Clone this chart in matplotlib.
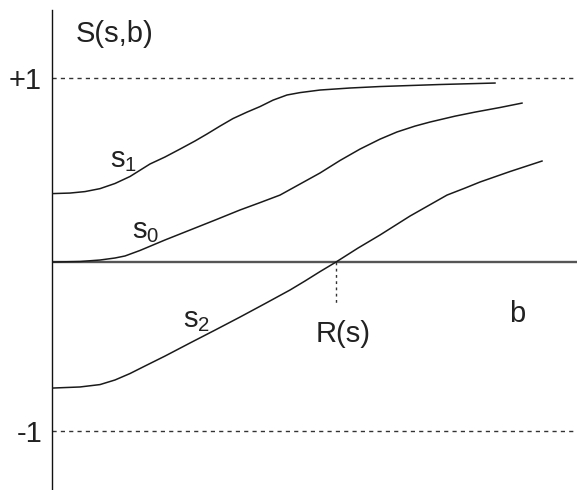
import matplotlib
matplotlib.use("Agg")
import matplotlib.pyplot as plt
import matplotlib.transforms as mtransforms

plt.rcParams['font.family'] = ['Liberation Sans', 'DejaVu Sans']
plt.rcParams['mathtext.fontset'] = 'custom'
plt.rcParams['mathtext.rm'] = 'Liberation Sans'
plt.rcParams['mathtext.it'] = 'Liberation Sans'

# curves S(s,b) (b in arbitrary units)
b_s1 = [0, 18, 33, 48, 63, 78, 98, 113, 128, 143, 155, 168, 181, 195, 208, 221, 235, 248, 268, 298, 328, 388, 443]
S_s1 = [0.372, 0.375, 0.383, 0.399, 0.427, 0.465, 0.533, 0.571, 0.614, 0.658, 0.696, 0.739,
        0.780, 0.815, 0.845, 0.880, 0.908, 0.921, 0.935, 0.946, 0.954, 0.965, 0.973]

b_s0 = [0, 28, 48, 63, 73, 88, 113, 138, 163, 188, 208, 228, 248, 268, 288, 308, 328, 345, 363, 378, 403, 423, 448, 470]
S_s0 = [0.0, 0.003, 0.011, 0.022, 0.033, 0.063, 0.120, 0.174, 0.228, 0.283, 0.323, 0.364,
        0.424, 0.484, 0.552, 0.614, 0.668, 0.707, 0.739, 0.761, 0.793, 0.815, 0.840, 0.864]

b_s2 = [0, 28, 48, 63, 78, 93, 113, 138, 163, 188, 213, 238, 253, 268, 284, 306, 328, 358, 395, 413, 428, 458, 490]
S_s2 = [-0.685, -0.679, -0.666, -0.641, -0.606, -0.565, -0.511, -0.440, -0.370, -0.299, -0.226, -0.152,
        -0.103, -0.052, 0.0, 0.076, 0.147, 0.250, 0.364, 0.402, 0.435, 0.492, 0.549]

upper_level = 1.0
lower_level = -0.918
R_b = 284
R_tick = -0.234

fig = plt.figure(figsize=(5.77, 4.90), dpi=100)
ax = fig.add_axes([52 / 577, 0, 1 - 52 / 577, 480 / 490])
ax.set_xlim(0, 525)
ax.set_ylim(-1.239, 1.370)
for sp in ['top', 'right', 'bottom']:
    ax.spines[sp].set_visible(False)
ax.spines['left'].set_linewidth(1.0)
ax.spines['left'].set_color('#111111')
ax.set_xticks([])
ax.set_yticks([])

ax.axhline(0, color='#555555', lw=1.7, zorder=1)
ax.axhline(upper_level, color='#333333', lw=1.0, ls=(0, (3, 3)))
ax.axhline(lower_level, color='#333333', lw=1.0, ls=(0, (3, 3)))
ax.plot([R_b, R_b], [0, R_tick], color='#333333', lw=1.0, ls=(0, (2, 2.5)))

for bb, ss in [(b_s1, S_s1), (b_s0, S_s0), (b_s2, S_s2)]:
    ax.plot(bb, ss, color='#1a1a1a', lw=1.1, zorder=3, solid_joinstyle='round')

fs = 21
trans = mtransforms.blended_transform_factory(ax.transAxes, ax.transData)
ax.annotate('+1', xy=(0, upper_level), xycoords=trans, xytext=(-7.5, -8),
            textcoords='offset points', ha='right', va='baseline', fontsize=fs, color='#222222',
            annotation_clip=False)
ax.annotate('-1', xy=(0, lower_level), xycoords=trans, xytext=(-7, -8),
            textcoords='offset points', ha='right', va='baseline', fontsize=fs, color='#222222',
            annotation_clip=False)

ax.text(24, 1.196, 'S(s,b)', fontsize=fs, ha='left', va='baseline', color='#222222')
ax.text(58, 0.516, r'$\mathrm{s}_{1}$', fontsize=fs, ha='left', va='baseline', color='#222222')
ax.text(80, 0.130, r'$\mathrm{s}_{0}$', fontsize=fs, ha='left', va='baseline', color='#222222')
ax.text(131, -0.353, r'$\mathrm{s}_{2}$', fontsize=fs, ha='left', va='baseline', color='#222222')
ax.text(291, -0.435, 'R(s)', fontsize=fs, ha='center', va='baseline', color='#222222')
ax.text(457, -0.326, 'b', fontsize=fs, ha='left', va='baseline', color='#222222')

fig.savefig('out.png', dpi=100)
